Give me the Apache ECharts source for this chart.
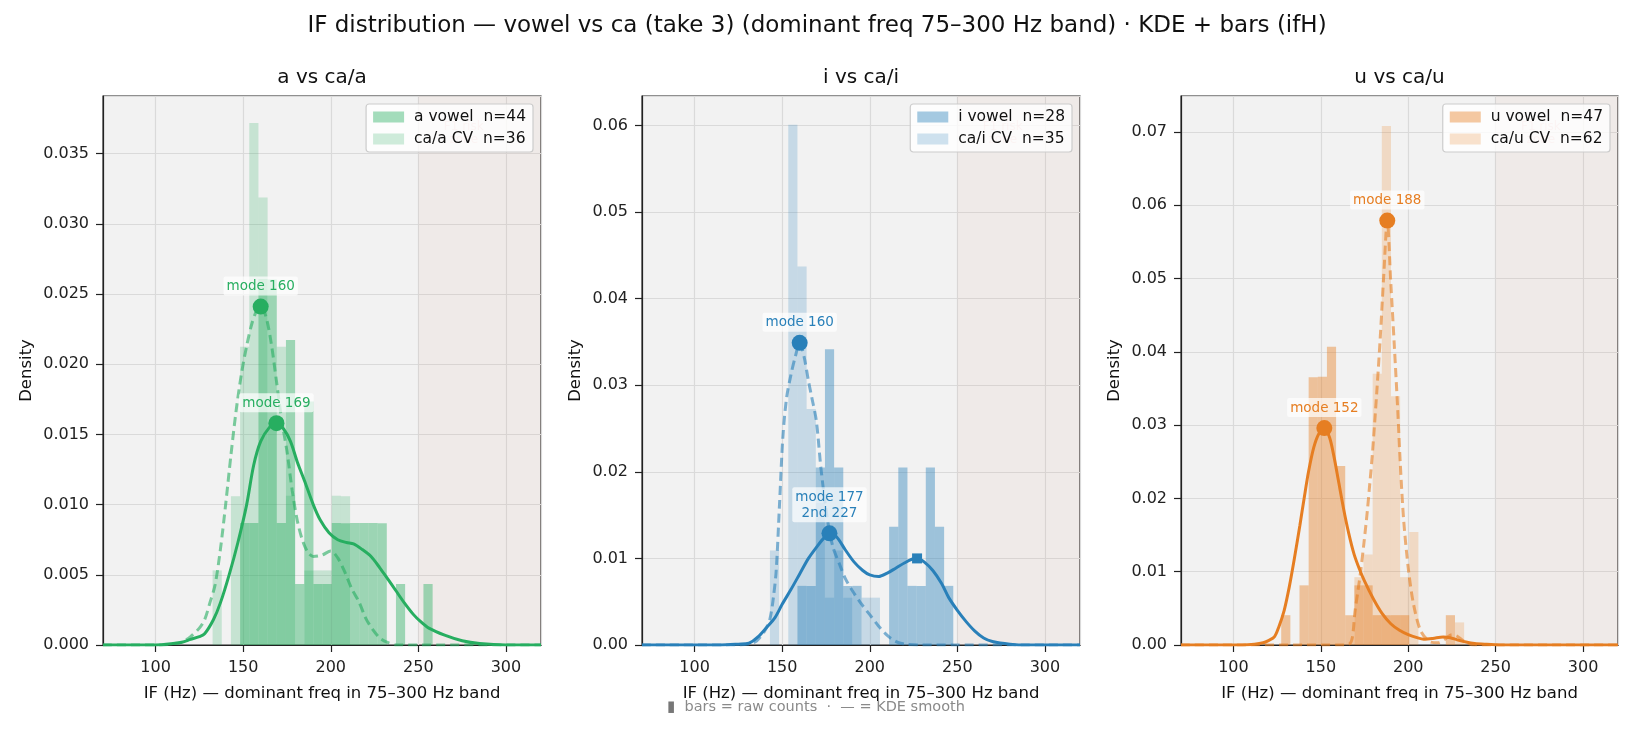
<!DOCTYPE html>
<html>
<head>
<meta charset="utf-8">
<title>IF distribution — vowel vs ca</title>
<script src="https://cdn.jsdelivr.net/npm/echarts@6/dist/echarts.min.js"></script>
<style>
html, body { margin: 0; padding: 0; background: #fff; }
#chart { width: 1634px; height: 732px; }
</style>
</head>
<body>
<div id="chart"></div>
<script>
// histogram bin edges (Hz), bins 10..35 of the 75-300 Hz band
var binEdges = [127.33, 132.56, 137.79, 143.02, 148.26, 153.49, 158.72, 163.95, 169.19, 174.42,
    179.65, 184.88, 190.12, 195.35, 200.58, 205.81, 211.05, 216.28, 221.51, 226.74,
    231.98, 237.21, 242.44, 247.67, 252.91, 258.14, 263.37];

// raw counts per bin
var aVowelCounts = [0,0,0,0,2,2,6,6,2,5,1,4,1,1,2,2,2,2,2,2,0,1,0,0,1,0];
var aCvCounts    = [0,1,0,2,4,7,6,3,4,2,0,1,1,1,2,2,0,0,0,0,0,0,0,0,0,0];
var iVowelCounts = [0,0,0,0,0,0,1,1,3,5,3,1,1,0,0,0,2,3,1,1,3,2,1,0,0,0];
var iCvCounts    = [0,0,0,2,0,11,8,5,3,1,2,1,0,1,1,0,0,0,0,0,0,0,0,0,0,0];
var uVowelCounts = [1,0,2,9,9,10,6,1,2,2,1,1,1,1,0,0,0,0,1,0,0,0,0,0,0,0];
var uCvCounts    = [0,0,0,0,0,0,0,0,3,4,12,23,11,3,5,0,0,0,0,1,0,0,0,0,0,0];

// KDE curves [Hz, density]
var aVowelKde = [[70,0],[100,0],[110,0.0001],[115,0.0002],[120,0.0004],[125,0.0006],[128,0.0008],[133,0.0018],[137,0.0030],[142,0.0050],[147,0.0073],[152,0.0100],[156,0.0128],[160,0.0145],[165,0.0155],[169,0.0158],[173,0.0154],[177,0.0145],[181,0.0130],[185,0.0117],[190,0.0100],[194,0.0089],[199,0.0080],[204,0.0075],[209,0.0073],[213,0.0072],[218,0.0068],[223,0.0063],[228,0.0055],[232,0.0048],[237,0.0039],[242,0.0030],[247,0.0022],[251,0.0017],[256,0.0012],[265,0.0007],[275,0.0003],[285,0.0001],[300,0],[320,0]];
var aCvKde = [[70,0],[105,0],[110,0.0001],[115,0.0002],[120,0.0006],[125,0.0012],[128,0.0018],[131,0.0030],[134,0.0043],[137,0.0068],[140,0.0100],[143,0.0135],[146,0.0167],[149,0.0193],[152,0.0213],[155,0.0229],[158,0.0239],[160,0.0241],[163,0.0234],[166,0.0215],[169,0.0188],[172,0.0160],[175,0.0138],[178,0.0110],[181,0.0088],[184,0.0074],[187,0.0066],[190,0.0063],[195,0.0064],[200,0.0067],[204,0.0062],[208,0.0052],[212,0.0040],[216,0.0031],[220,0.0019],[224,0.0011],[228,0.0005],[232,0.0002],[238,0],[320,0]];
var iVowelKde = [[70,0],[115,0],[125,0.0001],[131,0.0002],[136,0.0009],[141,0.0020],[146,0.0032],[150,0.0047],[155,0.0064],[160,0.0082],[165,0.0100],[170,0.0114],[174,0.0124],[177,0.0129],[181,0.0125],[186,0.0110],[191,0.0096],[196,0.0086],[200,0.0081],[205,0.0079],[210,0.0083],[215,0.0089],[220,0.0095],[224,0.0099],[227,0.0100],[231,0.0096],[236,0.0086],[241,0.0071],[245,0.0055],[250,0.0040],[255,0.0027],[260,0.0016],[265,0.0008],[270,0.0004],[280,0.0001],[290,0],[320,0]];
var iCvKde = [[70,0],[125,0],[131,0.0001],[135,0.0004],[137,0.0008],[140,0.0016],[143,0.0030],[145,0.0055],[146.6,0.0086],[148.5,0.0163],[150.4,0.0240],[152.5,0.0285],[155,0.0312],[157.5,0.0333],[160,0.0349],[162.5,0.0333],[165,0.0305],[167,0.0285],[169.5,0.0259],[172.3,0.0201],[176,0.0143],[179,0.0113],[182.8,0.0093],[186,0.0077],[190,0.0063],[195,0.0048],[200,0.0035],[205,0.0022],[210,0.0011],[215,0.0004],[220,0.0001],[228,0],[320,0]];
var uVowelKde = [[70,0],[105,0],[112,0.0001],[117,0.0003],[120,0.0006],[123.4,0.0011],[126,0.0025],[129,0.0047],[132,0.0080],[135,0.0120],[138,0.0163],[140.5,0.0201],[143,0.0237],[146,0.0270],[149,0.0289],[152,0.0296],[155,0.0283],[157.6,0.0256],[160,0.0225],[163,0.0186],[166,0.0152],[169,0.0124],[172,0.0104],[175,0.0087],[180,0.0063],[185,0.0043],[190,0.0029],[195,0.0020],[200,0.0014],[205,0.0010],[209,0.0008],[214,0.0009],[220,0.0011],[224,0.0010],[228,0.0007],[233,0.0004],[238,0.0002],[245,0.0001],[255,0],[320,0]];
var uCvKde = [[70,0],[160,0],[166,0.0001],[168,0.0010],[169.5,0.0045],[171,0.0070],[172.8,0.0101],[174.7,0.0140],[176.6,0.0183],[178,0.0220],[179.5,0.0261],[182,0.0345],[184,0.0420],[186,0.0505],[188,0.0579],[190,0.0495],[192,0.0410],[194,0.0320],[195.5,0.0245],[197.4,0.0170],[200.2,0.0101],[203,0.0056],[207,0.0020],[212,0.0005],[217,0.0003],[221,0.0008],[225,0.0014],[228,0.0012],[232,0.0005],[238,0],[320,0]];

// KDE modes [Hz, density]
var aVowelMode = [169, 0.0158];
var aCvMode    = [160, 0.0241];
var iVowelMode = [177, 0.0129];
var iVowelMode2 = [227, 0.0100];
var iCvMode    = [160, 0.0349];
var uVowelMode = [152, 0.0296];
var uCvMode    = [188, 0.0579];

var FONT = 'DejaVu Sans';

var panels = [
    {title:'a vs ca/a', rgb:'39,174,96', vName:'a vowel  n=44', cName:'ca/a CV  n=36',
     vCounts:aVowelCounts, cCounts:aCvCounts, vKde:aVowelKde, cKde:aCvKde,
     vMode:aVowelMode, cMode:aCvMode, yMax:0.0391, yStep:0.005, digits:3, left:103, width:438, nameGap:68},
    {title:'i vs ca/i', rgb:'41,128,185', vName:'i vowel  n=28', cName:'ca/i CV  n=35',
     vCounts:iVowelCounts, cCounts:iCvCounts, vKde:iVowelKde, cKde:iCvKde,
     vMode:iVowelMode, vMode2:iVowelMode2, cMode:iCvMode, yMax:0.0634, yStep:0.01, digits:2, left:642, width:438, nameGap:58},
    {title:'u vs ca/u', rgb:'230,126,34', vName:'u vowel  n=47', cName:'ca/u CV  n=62',
     vCounts:uVowelCounts, cCounts:uCvCounts, vKde:uVowelKde, cKde:uCvKde,
     vMode:uVowelMode, cMode:uCvMode, yMax:0.0749, yStep:0.01, digits:2, left:1181, width:437, nameGap:58}
];

function toBars(counts){
    var n = counts.reduce(function(a,b){return a+b;}, 0);
    var out = [];
    counts.forEach(function(c, i){
        if (c > 0) {
            var w = binEdges[i+1] - binEdges[i];
            out.push([binEdges[i], binEdges[i+1], c / (n * w)]);
        }
    });
    return out;
}

function barSeries(name, idx, counts, color){
    return {
        type:'custom', name:name, xAxisIndex:idx, yAxisIndex:idx, z:2, silent:true,
        itemStyle:{color:color},
        encode:{x:[0,1], y:2},
        renderItem:function(params, api){
            var p0 = api.coord([api.value(0), 0]);
            var p1 = api.coord([api.value(1), api.value(2)]);
            return {type:'rect', shape:{x:p0[0], y:p1[1], width:p1[0]-p0[0], height:p0[1]-p1[1]}, style:{fill:color}};
        },
        data:toBars(counts)
    };
}

function modeLabel(text, color){
    return {show:true, position:'top', distance:3, formatter:text, color:color, fontSize:13.5, fontFamily:FONT,
        align:'center', lineHeight:16, backgroundColor:'rgba(255,255,255,0.7)', padding:[2,3,1,3], borderRadius:2};
}

var grids = [], xAxes = [], yAxes = [], legends = [], series = [];
var titles = [{
    text:'IF distribution — vowel vs ca (take 3) (dominant freq 75–300 Hz band) · KDE + bars (ifH)',
    left:817, top:15, textAlign:'center', padding:0,
    textStyle:{fontSize:23, fontWeight:'normal', color:'#111', fontFamily:FONT}
}, {
    text:'{m|▮}  bars = raw counts  ·  — = KDE smooth',
    left:667, top:700, padding:0,
    textStyle:{fontSize:14.5, fontWeight:'normal', color:'#8a8a8a', fontFamily:FONT, rich:{m:{color:'#777', fontSize:15, fontFamily:FONT}}}
}];

panels.forEach(function(p, i){
    var solid = 'rgb(' + p.rgb + ')';
    grids.push({show:true, left:p.left, top:96, width:p.width, height:549,
        backgroundColor:'#f2f2f2', borderColor:'#222', borderWidth:1.2});
    titles.push({text:p.title, left:p.left + p.width/2, top:68, textAlign:'center', padding:0,
        textStyle:{fontSize:20, fontWeight:'normal', color:'#111', fontFamily:FONT}});
    xAxes.push({
        gridIndex:i, type:'value', min:70, max:320, splitNumber:5,
        name:'IF (Hz) — dominant freq in 75–300 Hz band', nameLocation:'middle', nameGap:40,
        nameTextStyle:{fontSize:16.5, color:'#111', fontFamily:FONT},
        axisLine:{show:true, onZero:false, lineStyle:{color:'#222', width:1.2}},
        axisTick:{show:true, length:7, lineStyle:{color:'#222', width:1.2}},
        axisLabel:{showMinLabel:false, showMaxLabel:false, color:'#222', fontSize:16, margin:15, fontFamily:FONT},
        splitLine:{show:true, lineStyle:{color:'#dadada', width:1.2}}
    });
    yAxes.push({
        gridIndex:i, type:'value', min:0, max:p.yMax, interval:p.yStep,
        name:'Density', nameLocation:'middle', nameGap:p.nameGap,
        nameTextStyle:{fontSize:16.5, color:'#111', fontFamily:FONT},
        axisLine:{show:true, lineStyle:{color:'#222', width:1.2}},
        axisTick:{show:true, length:7, lineStyle:{color:'#222', width:1.2}},
        axisLabel:{showMaxLabel:false, color:'#222', fontSize:16, margin:14, fontFamily:FONT,
            formatter:function(v){ return v.toFixed(p.digits); }},
        splitLine:{show:true, lineStyle:{color:'#dadada', width:1.2}}
    });
    legends.push({
        data:[p.vName, p.cName], orient:'vertical', align:'left',
        right:1634 - (p.left + p.width) + 8, top:104,
        icon:'rect', itemWidth:31, itemHeight:11, itemGap:6,
        padding:[5,7,5,7], backgroundColor:'rgba(255,255,255,0.8)',
        borderColor:'#cccccc', borderWidth:1.2, borderRadius:3,
        formatter:function(n){ return ' ' + n; },
        textStyle:{fontSize:15.5, color:'#111', fontFamily:FONT}
    });

    series.push(barSeries(p.vName, i, p.vCounts, 'rgba(' + p.rgb + ',0.42)'));
    series.push(barSeries(p.cName, i, p.cCounts, 'rgba(' + p.rgb + ',0.22)'));

    series.push({
        type:'line', xAxisIndex:i, yAxisIndex:i, z:3, silent:true,
        data:p.vKde, showSymbol:false, smooth:0.3,
        lineStyle:{color:solid, width:3},
        markArea:{silent:true, itemStyle:{color:'rgba(210,140,120,0.07)'},
            label:{show:true, position:['37%', 24], align:'center', formatter:'F1 risk\nzone',
                color:'rgba(225,90,90,0.28)', fontSize:12, fontFamily:FONT, lineHeight:13},
            data:[[{xAxis:250, yAxis:0}, {xAxis:320, yAxis:p.yMax}]]}
    });
    series.push({
        type:'line', xAxisIndex:i, yAxisIndex:i, z:3, silent:true,
        data:p.cKde, showSymbol:false, smooth:0.3,
        lineStyle:{color:'rgba(' + p.rgb + ',0.6)', width:3, type:[9,5]}
    });

    var vText = 'mode ' + p.vMode[0] + (p.vMode2 ? '\n2nd ' + p.vMode2[0] : '');
    series.push({
        type:'scatter', xAxisIndex:i, yAxisIndex:i, z:5, silent:true, symbolSize:16,
        itemStyle:{color:solid, opacity:1},
        data:[
            {value:p.cMode, label:modeLabel('mode ' + p.cMode[0], solid)},
            {value:p.vMode, label:modeLabel(vText, solid)}
        ]
    });
    if (p.vMode2) {
        series.push({
            type:'scatter', xAxisIndex:i, yAxisIndex:i, z:5, silent:true,
            symbol:'rect', symbolSize:10, itemStyle:{color:solid, opacity:1},
            data:[p.vMode2]
        });
    }
});

var myChart = echarts.init(document.getElementById('chart'));
myChart.setOption({
    backgroundColor:'#ffffff',
    animation:false,
    textStyle:{fontFamily:FONT},
    title:titles,
    grid:grids,
    xAxis:xAxes,
    yAxis:yAxes,
    legend:legends,
    series:series
});
</script>
</body>
</html>
